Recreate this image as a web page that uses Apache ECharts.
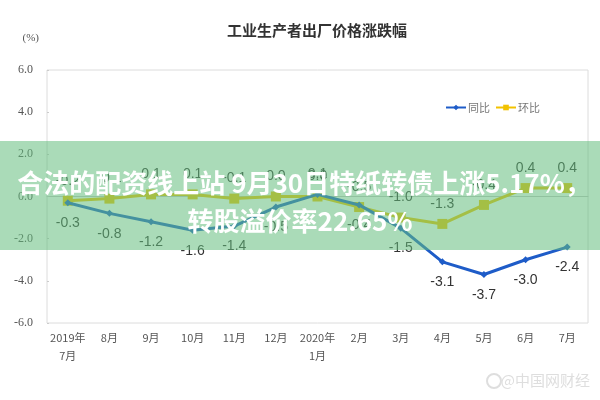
<!DOCTYPE html>
<html><head><meta charset="utf-8">
<script src="https://cdn.jsdelivr.net/npm/echarts@6/dist/echarts.min.js"></script>
<style>html,body{margin:0;padding:0;background:#fff}#c{width:600px;height:400px}</style>
</head><body><div id="c"></div>
<script>
const categories = ['2019年\n7月','8月','9月','10月','11月','12月','2020年\n1月','2月','3月','4月','5月','6月','7月'];
const yoy = [-0.3,-0.8,-1.2,-1.6,-1.4,-0.5,0.1,-0.4,-1.5,-3.1,-3.7,-3.0,-2.4];
const mom = [-0.2,-0.1,0.1,0.1,-0.1,0.0,0.0,-0.5,-1.0,-1.3,-0.4,0.4,0.4];
const yTicks = [-6,-4,-2,0,2,4,6];
const seriesNames = ['同比','环比'];
const titleText = '工业生产者出厂价格涨跌幅';
const overlayLines = ['合法的配资线上站 9月30日特纸转债上涨5.17%，','转股溢价率22.65%'];

const chart = echarts.init(document.getElementById('c'));
const lblFont = {fontFamily:'Liberation Sans Narrow, Liberation Sans, sans-serif', fontSize:14, color:'#333'};
chart.setOption({
  animation:false,
  title:{text:titleText,left:312,top:18,textAlign:'center',
    textStyle:{fontFamily:'Noto Sans CJK SC',fontSize:15,fontWeight:'bold',color:'#333'}},
  legend:{right:55,top:97,itemWidth:20,itemHeight:7,itemGap:5,
    textStyle:{fontFamily:'Noto Sans CJK SC',fontSize:11,color:'#777',padding:[0,0,0,-3]},
    data:seriesNames},
  grid:{left:47,right:12,top:70,bottom:77,show:true,borderColor:'#dcdcdc',borderWidth:1},
  xAxis:{type:'category',data:categories,boundaryGap:true,
    axisLine:{onZero:true,lineStyle:{color:'#c8c8c8'}},axisTick:{show:false},
    axisLabel:{fontFamily:'Noto Sans CJK SC',fontSize:11,color:'#555',margin:6,lineHeight:18,interval:0}},
  yAxis:{type:'value',min:yTicks[0],max:yTicks[yTicks.length-1],interval:2,
    axisLine:{show:false},axisTick:{show:true,inside:true,length:2,lineStyle:{color:'#ccc'}},
    splitLine:{show:false},
    axisLabel:{formatter:v=>v.toFixed(1),fontFamily:'Liberation Serif, serif',fontSize:12,color:'#555',margin:14},
    name:'(%)',nameLocation:'end',nameGap:26,
    nameTextStyle:{fontFamily:'Liberation Serif, serif',fontSize:11,color:'#555',align:'right',padding:[0,8,0,0]}},
  series:[
    {name:seriesNames[0],type:'line',data:yoy.map((v,i)=>i===6?{value:v,label:{position:'top'}}:v),color:'#1e5cc8',
      lineStyle:{width:3,color:'#1e5cc8'},symbol:'diamond',symbolSize:7,
      itemStyle:{color:'#1e5cc8'},
      label:{show:true,position:'bottom',distance:10,formatter:p=>p.value.toFixed(1),...lblFont},
      z:3},
    {name:seriesNames[1],type:'line',data:mom,color:'#f2c200',
      lineStyle:{width:3,color:'#f2c200'},symbol:'rect',symbolSize:10,
      itemStyle:{color:'#f2c200'},
      label:{show:true,position:'top',distance:8,formatter:p=>p.value.toFixed(1),...lblFont},
      z:2}
  ],
  graphic:[
    {type:'rect',left:0,top:141,shape:{width:600,height:109},style:{fill:'rgba(100,190,125,0.55)'},z:100},
    {type:'text',x:304,y:183,z:101,style:{text:overlayLines[0],fill:'#fff',
      font:'bold 26px "Noto Sans CJK SC"',textAlign:'center',textVerticalAlign:'middle'}},
    {type:'text',x:300,y:221,z:101,style:{text:overlayLines[1],fill:'#fff',
      font:'bold 26px "Noto Sans CJK SC"',textAlign:'center',textVerticalAlign:'middle'}},
    {type:'text',x:590,y:380,z:101,style:{text:'@中国网财经',fill:'#dedede',
      font:'15px "Noto Sans CJK SC"',textAlign:'right',textVerticalAlign:'middle'}},
    {type:'circle',shape:{cx:494,cy:381,r:7},style:{fill:'none',stroke:'#dedede',lineWidth:2},z:101}
  ]
});
</script></body></html>
